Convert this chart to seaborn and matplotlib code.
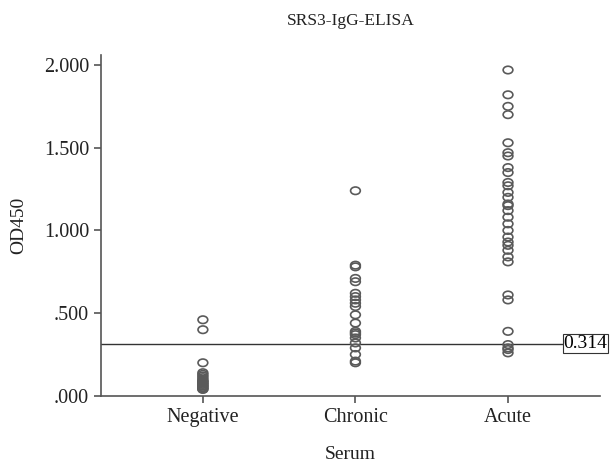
import numpy as np
import pandas as pd
import matplotlib
matplotlib.use('Agg')
import matplotlib.pyplot as plt
import matplotlib.transforms as mtransforms
from matplotlib.path import Path
from matplotlib.ticker import FuncFormatter
import seaborn as sns

# --- values ---
categories = ['Negative', 'Chronic', 'Acute']
negative = [0.46, 0.40, 0.20, 0.14, 0.13, 0.12, 0.11, 0.10, 0.09, 0.09, 0.08,
            0.08, 0.07, 0.07, 0.06, 0.06, 0.05, 0.05, 0.04, 0.04]
chronic = [1.24, 0.79, 0.78, 0.71, 0.69, 0.62, 0.60, 0.58, 0.56, 0.54, 0.49,
           0.44, 0.39, 0.38, 0.37, 0.35, 0.32, 0.29, 0.25, 0.21, 0.20]
acute = [1.97, 1.82, 1.75, 1.70, 1.53, 1.47, 1.45, 1.38, 1.35, 1.29, 1.27,
         1.23, 1.20, 1.16, 1.15, 1.12, 1.08, 1.04, 1.00, 0.96, 0.93, 0.91,
         0.88, 0.84, 0.81, 0.61, 0.58, 0.39, 0.31, 0.29, 0.28, 0.26]
cutoff = 0.314
y_ticks = [0.0, 0.5, 1.0, 1.5, 2.0]

data = pd.DataFrame({
    'Serum': (['Negative'] * len(negative) + ['Chronic'] * len(chronic)
              + ['Acute'] * len(acute)),
    'OD450': negative + chronic + acute,
})

plt.rcParams['font.family'] = ['Liberation Serif', 'DejaVu Serif']

fig = plt.figure(figsize=(6.11, 4.63), dpi=100)
ax = fig.add_axes([0.165, 0.145, 0.817, 0.736])

# slightly wide ellipse as marker, like the original
ellipse = Path.unit_circle().transformed(mtransforms.Affine2D().scale(1.3, 1.0))

sns.stripplot(data=data, x='Serum', y='OD450', order=categories, jitter=False,
              marker=ellipse, s=7, color='none', edgecolor='#5a5a5a',
              linewidth=1.2, ax=ax, zorder=3)
for coll in ax.collections:
    coll.set_facecolor('none')
    coll.set_edgecolor('#5a5a5a')
    coll.set_linewidth(1.2)

# cut-off line with boxed label
ax.axhline(cutoff, xmin=0, xmax=0.925, color='#333333', linewidth=1.0, zorder=2)
trans = mtransforms.blended_transform_factory(ax.transAxes, ax.transData)
ax.text(0.927, cutoff, f'{cutoff:.3f}', transform=trans, ha='left', va='center',
        fontsize=14, clip_on=False,
        bbox=dict(boxstyle='square,pad=0.05', facecolor='white',
                  edgecolor='#333333', linewidth=0.8))

ax.set_xlim(-0.669, 2.603)
ax.set_ylim(0, 2.06)
ax.set_yticks(y_ticks)
ax.yaxis.set_major_formatter(FuncFormatter(lambda v, p: f'{v:.3f}'.lstrip('0') if v < 1 else f'{v:.3f}'))

for side in ['top', 'right']:
    ax.spines[side].set_visible(False)
for side in ['left', 'bottom']:
    ax.spines[side].set_color('#555555')
    ax.spines[side].set_linewidth(1.2)
ax.tick_params(axis='both', direction='out', length=5, width=1.2, color='#555555',
               labelsize=14.5, labelcolor='#222222')

ax.set_title('SRS3-IgG-ELISA', fontsize=12.5, pad=22, color='#222222')
ax.set_xlabel('Serum', fontsize=14, labelpad=14, color='#222222')
ax.set_ylabel('OD450', fontsize=14, labelpad=12, color='#222222')

fig.savefig('out.png', dpi=100)
